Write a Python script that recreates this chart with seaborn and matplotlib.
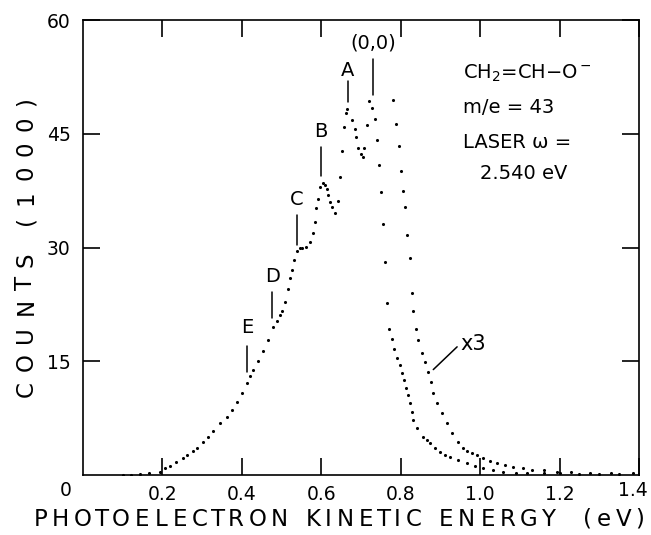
import numpy as np
import pandas as pd
import matplotlib
matplotlib.use("Agg")
import matplotlib.pyplot as plt
from matplotlib.font_manager import FontProperties
import seaborn as sns

# Spectre principal (énergie cinétique en eV, coups en milliers)
main_ev = [0.10, 0.12, 0.144, 0.165, 0.194, 0.207, 0.219, 0.235, 0.252, 0.262,
           0.277, 0.287, 0.302, 0.315, 0.327, 0.345, 0.362, 0.375, 0.388, 0.400,
           0.413, 0.421, 0.429, 0.441, 0.454, 0.466, 0.479, 0.489, 0.496, 0.501,
           0.509, 0.516, 0.521, 0.526, 0.531, 0.539, 0.546, 0.552, 0.562, 0.572,
           0.579, 0.584, 0.587, 0.592, 0.597, 0.605, 0.610, 0.615, 0.617, 0.622,
           0.627, 0.635, 0.642, 0.647, 0.652, 0.657, 0.662, 0.665, 0.677, 0.685,
           0.688, 0.693, 0.700, 0.705, 0.708, 0.715, 0.720, 0.728, 0.736, 0.741,
           0.746, 0.751, 0.756, 0.761, 0.766, 0.771, 0.778, 0.784, 0.791, 0.798,
           0.804, 0.809, 0.814, 0.819, 0.824, 0.828, 0.831, 0.841, 0.856, 0.866,
           0.874, 0.887, 0.899, 0.912, 0.924, 0.945, 0.967, 0.987, 1.008, 1.033,
           1.058, 1.09, 1.118, 1.16, 1.20, 1.25, 1.30, 1.35, 1.40]
main_counts = [0.0, 0.05, 0.1, 0.2, 0.4, 0.9, 1.2, 1.7, 2.2, 2.6,
               3.1, 3.5, 4.3, 5.0, 5.8, 6.8, 7.6, 8.6, 9.6, 10.8,
               12.1, 13.0, 13.9, 15.0, 16.3, 17.8, 19.5, 20.3, 21.1, 21.6,
               22.8, 24.5, 26.0, 27.0, 28.4, 29.6, 29.9, 29.9, 30.1, 30.7,
               31.9, 33.4, 35.2, 36.4, 38.0, 38.5, 38.2, 37.7, 36.9, 36.0,
               35.4, 34.6, 36.1, 39.3, 42.7, 45.9, 47.8, 48.3, 46.8, 45.6,
               44.6, 43.1, 42.3, 42.0, 43.1, 46.2, 49.3, 48.4, 47.0, 44.2,
               40.9, 37.3, 33.1, 28.1, 22.7, 19.3, 17.9, 16.6, 15.4, 14.5,
               13.5, 12.5, 11.5, 10.6, 9.5, 8.3, 7.3, 6.2, 5.0, 4.6,
               4.2, 3.6, 3.0, 2.7, 2.4, 2.0, 1.6, 1.2, 0.9, 0.6,
               0.4, 0.3, 0.26, 0.2, 0.2, 0.15, 0.1, 0.1, 0.1]

# Queue multipliée par 3
x3_ev = [0.781, 0.788, 0.796, 0.801, 0.806, 0.811, 0.816, 0.824, 0.829, 0.831,
         0.839, 0.844, 0.854, 0.861, 0.869, 0.877, 0.882, 0.892, 0.904, 0.917,
         0.929, 0.945, 0.957, 0.967, 0.980, 0.992, 1.008, 1.025, 1.043, 1.063,
         1.083, 1.108, 1.13, 1.16, 1.194, 1.23, 1.277, 1.33, 1.385]
x3_counts = [49.5, 46.3, 43.4, 40.1, 37.5, 35.3, 31.6, 28.6, 24.0, 21.6,
             19.3, 17.8, 16.1, 14.9, 13.6, 12.3, 10.8, 9.5, 8.2, 6.9,
             5.5, 4.4, 3.6, 3.2, 2.9, 2.6, 2.2, 1.9, 1.6, 1.3,
             1.1, 0.9, 0.7, 0.6, 0.4, 0.35, 0.26, 0.22, 0.2]

# Étiquettes des pics : texte, position x, y du texte, bas et haut du trait
peak_labels = ["E", "D", "C", "B", "A", "(0,0)"]
peak_x = [0.413, 0.477, 0.539, 0.600, 0.667, 0.730]
peak_text_y = [19.4, 26.2, 36.3, 45.3, 53.4, 57.0]
peak_line_lo = [13.6, 20.7, 30.3, 39.4, 49.2, 50.1]
peak_line_hi = [17.0, 24.1, 34.3, 43.3, 52.0, 54.8]

x_ticks = [0.2, 0.4, 0.6, 0.8, 1.0, 1.2, 1.4]
x_labels = ["0.2", "0.4", "0.6", "0.8", "1.0", "1.2", ""]
y_ticks = [15, 30, 45, 60]
y_labels = ["15", "30", "45", "60"]

x_title = "PHOTOELECTRON KINETIC ENERGY  (eV)"
y_title = "COUNTS (1000)"

sns.set_theme(style="ticks")
plt.rcParams["font.family"] = ["DejaVu Sans"]
plt.rcParams["text.color"] = "black"
plt.rcParams["xtick.color"] = "black"
plt.rcParams["ytick.color"] = "black"

W, H = 651, 535
fig = plt.figure(figsize=(W / 100, H / 100), dpi=100)
ax = fig.add_axes([83 / W, 60 / H, 556 / W, 455 / H])

main_df = pd.DataFrame({"ev": main_ev, "counts": main_counts})
x3_df = pd.DataFrame({"ev": x3_ev, "counts": x3_counts})
sns.scatterplot(data=main_df, x="ev", y="counts", ax=ax, s=5, color="black",
                linewidth=0, marker="o")
sns.scatterplot(data=x3_df, x="ev", y="counts", ax=ax, s=5, color="black",
                linewidth=0, marker="o")

ax.set_xlim(0, 1.4)
ax.set_ylim(0, 60)
ax.set_xticks(x_ticks)
ax.set_xticklabels(x_labels)
ax.set_yticks(y_ticks)
ax.set_yticklabels(y_labels)
ax.set_xlabel("")
ax.set_ylabel("")
ax.tick_params(direction="in", length=12, width=1.2, top=True, right=True,
               labelsize=13.5)
ax.tick_params(axis="x", pad=7)
ax.tick_params(axis="y", pad=9)
for sp in ax.spines.values():
    sp.set_linewidth(1.2)
    sp.set_color("black")

# origine commune et dernière graduation (collée au bord droit)
ax.text(-0.032, -0.033, "0", transform=ax.transAxes, ha="center", va="center",
        fontsize=13.5)
ax.text(1.016, -0.033, "1.4", transform=ax.transAxes, ha="right", va="center",
        fontsize=13.5)

for lab, x, ty, lo, hi in zip(peak_labels, peak_x, peak_text_y, peak_line_lo, peak_line_hi):
    ax.text(x, ty, lab, ha="center", va="center", fontsize=14)
    ax.plot([x, x], [lo, hi], color="black", lw=1.1)

# annotation x3
ax.plot([0.882, 0.942], [13.9, 16.9], color="black", lw=1.1)
ax.text(0.950, 17.3, "x3", ha="left", va="center", fontsize=15)

ax.text(0.957, 53.0, r"CH$_2$=CH$-$O$^-$", ha="left", va="center", fontsize=14)
ax.text(0.957, 48.4, "m/e = 43", ha="left", va="center", fontsize=14)
ax.text(0.957, 43.9, "LASER ω =", ha="left", va="center", fontsize=14)
ax.text(0.999, 39.7, "2.540 eV", ha="left", va="center", fontsize=14)


# titres d'axes en lettrage espacé (comme au normographe)
renderer = fig.canvas.get_renderer()


def largeur(ch, fp):
    w_aa = renderer.get_text_width_height_descent("aa", fp, ismath=False)[0]
    w = renderer.get_text_width_height_descent("a" + ch + "a", fp, ismath=False)[0]
    return w - w_aa


def texte_espace(s, centre, total, fixe, fontsize, vertical=False):
    # centre et fixe en pixels, depuis la gauche / depuis le haut
    fp = FontProperties(family="DejaVu Sans", size=fontsize)
    ws = [largeur(c, fp) for c in s]
    extra = (total - sum(ws)) / (len(s) - 1)
    if vertical:
        pos = centre + total / 2
    else:
        pos = centre - total / 2
    for c, w in zip(s, ws):
        if vertical:
            mid = pos - w / 2
            fig.text(fixe / W, (H - mid) / H, c, rotation=90, ha="center",
                     va="center", fontsize=fontsize)
            pos -= w + extra
        else:
            mid = pos + w / 2
            fig.text(mid / W, (H - fixe) / H, c, ha="center", va="center",
                     fontsize=fontsize)
            pos += w + extra


texte_espace(x_title, 339, 610, 519, 16.5)
texte_espace(y_title, 247, 300, 26, 16.5, vertical=True)

fig.savefig("out.png", dpi=100, facecolor="white")
